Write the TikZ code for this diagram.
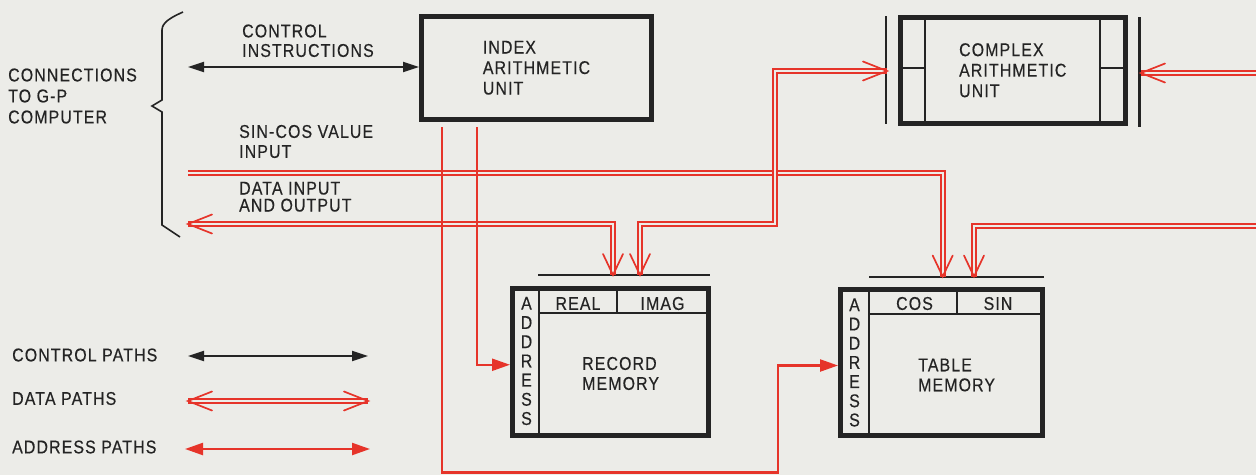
\documentclass[tikz,border=0pt]{standalone}
\usepackage{fontspec}
\setmainfont{Liberation Sans}[FakeStretch=0.86, LetterSpace=6, FakeBold=0.4]
\usetikzlibrary{arrows.meta,calc}
\definecolor{bgc}{RGB}{236,236,232}
\definecolor{rd}{RGB}{230,52,42}
\definecolor{ink}{RGB}{36,36,36}
\newcommand\barbdn[1]{\draw[barb] ($(#1)+(-10,-21)$) -- (#1) -- ($(#1)+(10,-21)$);}
\newcommand\barblt[1]{\draw[barb] ($(#1)+(24,-9.5)$) -- (#1) -- ($(#1)+(24,9.5)$);}
\newcommand\barbrt[1]{\draw[barb] ($(#1)+(-24,-9.5)$) -- (#1) -- ($(#1)+(-24,9.5)$);}
\begin{document}
\begin{tikzpicture}[x=1pt,y=-1pt,
  txt/.style={inner sep=0pt, text=ink, font=\fontsize{18.5}{20}\selectfont},
  box/.style={draw=ink, line width=5pt, inner sep=0pt},
  thinl/.style={draw=ink, line width=2pt},
  dbl/.style={draw=rd, double=bgc, line width=1.8pt, double distance=2.4pt},
  barb/.style={draw=rd, line width=1.7pt, line cap=round},
  adr/.style={draw=rd, line width=2.3pt, >={Triangle[length=18pt,width=12pt]}},
  ctl/.style={draw=ink, line width=1.9pt, >={Triangle[length=16pt,width=10pt]}}]
\fill[bgc] (0,0) rectangle (1256,475);
\useasboundingbox (0,0) rectangle (1256,475);

% ---------- boxes (nodes) ----------
\node[box, txt, align=left, minimum width=230pt, minimum height=102.5pt,
      font=\fontsize{18.5}{20.5}\selectfont] (iau) at (536.5,67.75) {INDEX\\ARITHMETIC\\UNIT};
\node[box, txt, align=left, minimum width=225.5pt, minimum height=105.5pt,
      font=\fontsize{18.5}{20.5}\selectfont] (cau) at (1012.75,70.25) {COMPLEX\\ARITHMETIC\\UNIT};
\node[box, minimum width=196pt, minimum height=146.5pt] (rm) at (610.5,361.75) {};
\node[box, minimum width=202pt, minimum height=146pt] (tm) at (941.5,362.5) {};

% complex unit inner lines and side bars
\draw[thinl] (925,17.5) -- (925,123) (1099.5,17.5) -- (1099.5,123)
             (900,68.3) -- (925,68.3) (1099.5,68.3) -- (1125.5,68.3);
\draw[ink, line width=2.4pt] (886,16) -- (886,124) (1139.5,17) -- (1139.5,127);

% record memory inner lines
\draw[thinl] (539.3,288.5) -- (539.3,435) (539.3,313.3) -- (708.5,313.3)
             (616.7,288.5) -- (616.7,313.3);
\draw[thinl] (538,275) -- (710,275);
% table memory inner lines
\draw[thinl] (869.3,289.5) -- (869.3,435.5) (869.3,314.3) -- (1042.5,314.3)
             (956.7,289.5) -- (956.7,314.3);
\draw[thinl] (869,276.7) -- (1044,276.7);

% ---------- coordinates ----------
\coordinate (scL) at (188,173);
\coordinate (tCos) at (942.7,276.5);
\coordinate (dioL) at (188,224);
\coordinate (tReal) at (613,275);
\coordinate (tImag) at (640,275);
\coordinate (j1) at (775,224);
\coordinate (cauL) at (887,71);
\coordinate (rtop) at (1260,73);
\coordinate (cauR) at (1141,73);
\coordinate (rbot) at (1260,226);
\coordinate (tSin) at (974,276.5);
\coordinate (a1) at (476.7,127);
\coordinate (a2) at (441.7,127);
\coordinate (a2b) at (441.7,472.5);
\coordinate (a2c) at (778,472.5);
\coordinate (ctlL) at (188,67);

% ---------- data paths ----------
\draw[dbl] (scL) -| (tCos);
\draw[dbl] (dioL) -| (tReal);
\draw[dbl] (tImag) |- (j1) |- (cauL);
\draw[dbl] (cauR) -- (rtop);
\draw[dbl] (rbot) -| (tSin);
\barbdn{tCos} \barbdn{tReal} \barbdn{tImag} \barbdn{tSin}
\barblt{dioL} \barbrt{cauL} \barblt{cauR}

% ---------- address paths ----------
\draw[adr,->] (a1) |- ($(rm.west)+(0,3)$);
\draw[adr,->] (a2) -- (a2b) -- (a2c) |- ($(tm.west)+(0,3)$);

% ---------- control path ----------
\draw[ctl,<->] (ctlL) -- (ctlL -| iau.west);

% brace
\draw[ink, line width=1.6pt, line join=miter]
  (183,12) .. controls (172,17) and (162,22) .. (162,30) -- (162,100)
  -- (152,106) -- (162,112) -- (162,225) -- (180,237);

% ---------- texts ----------
\node[txt, anchor=west, align=left, font=\fontsize{18.5}{21}\selectfont] (conn) at (8,96) {CONNECTIONS\\TO G-P\\COMPUTER};
\node[txt, anchor=west, align=left, font=\fontsize{18.5}{19.5}\selectfont] (ci) at (242,40.75) {CONTROL\\INSTRUCTIONS};
\node[txt, anchor=west, align=left, font=\fontsize{18.5}{20}\selectfont] (sc) at (239,141.5) {SIN-COS VALUE\\INPUT};
\node[txt, anchor=west, align=left, font=\fontsize{18.5}{17}\selectfont] (dio) at (239,196.75) {DATA INPUT\\AND OUTPUT};

\node[txt, align=center, font=\fontsize{18.5}{19.2}\selectfont] (ra) at (526.5,361) {A\\D\\D\\R\\E\\S\\S};
\node[txt] (real) at (578,303.5) {REAL};
\node[txt] (imag) at (662.5,303.5) {IMAG};
\node[txt, anchor=west, align=left] (rmt) at (582,373.5) {RECORD\\MEMORY};

\node[txt, align=center, font=\fontsize{18.5}{19.2}\selectfont] (ta) at (854.5,362.5) {A\\D\\D\\R\\E\\S\\S};
\node[txt] (cos) at (914.5,303.5) {COS};
\node[txt] (sin) at (998,303.5) {SIN};
\node[txt, anchor=west, align=left] (tmt) at (918,375) {TABLE\\MEMORY};

% ---------- legend ----------
\node[txt, anchor=west] (lc) at (12,355) {CONTROL PATHS};
\node[txt, anchor=west] (ld) at (12,398.5) {DATA PATHS};
\node[txt, anchor=west] (la) at (12,447) {ADDRESS PATHS};
\coordinate (lc1) at (188,356); \coordinate (lc2) at (368,356);
\coordinate (ld1) at (188,401); \coordinate (ld2) at (368,401);
\coordinate (la1) at (185,449); \coordinate (la2) at (370,449);
\draw[ctl,<->] (lc1) -- (lc2);
\draw[dbl] (ld1) -- (ld2);
\barblt{ld1} \barbrt{ld2}
\draw[adr,<->] (la1) -- (la2);
\end{tikzpicture}
\end{document}
